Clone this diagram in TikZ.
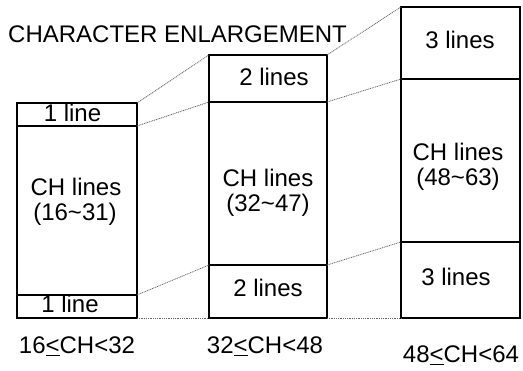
\documentclass[tikz,border=0pt]{standalone}
\usepackage{fontspec}
\setmainfont{Liberation Sans}
\begin{document}
\begin{tikzpicture}[x=1pt,y=-1pt,
  seg/.style={draw=black, line width=2.2pt, inner sep=0pt, outer sep=0pt, anchor=north west},
  lbl/.style={inner sep=0pt, anchor=base, font=\fontsize{24}{26}\selectfont},
  link/.style={draw=black!60, line width=0.8pt, dash pattern=on 1pt off 0.8pt}]
\useasboundingbox (0,0) rectangle (523,371);
% title
\node[lbl, anchor=base west] (title) at (8,43) {CHARACTER ENLARGEMENT};
% left box
\node[seg, minimum width=120, minimum height=23] (L1) at (17,103) {};
\node[seg, minimum width=120, minimum height=169] (L2) at (17,126) {};
\node[seg, minimum width=120, minimum height=23] (L3) at (17,295) {};
% middle box
\node[seg, minimum width=118, minimum height=47] (M1) at (209,55) {};
\node[seg, minimum width=118, minimum height=163] (M2) at (209,102) {};
\node[seg, minimum width=118, minimum height=53] (M3) at (209,265) {};
% right box
\node[seg, minimum width=119, minimum height=72] (R1) at (401,7) {};
\node[seg, minimum width=119, minimum height=163] (R2) at (401,79) {};
\node[seg, minimum width=119, minimum height=76] (R3) at (401,242) {};
% connectors
\draw[link] (L1.north east) -- (M1.north west);
\draw[link] (L2.north east) -- (M2.north west);
\draw[link] (L3.north east) -- (M3.north west);
\draw[link] (L3.south east) -- (M3.south west);
\draw[link] (M1.north east) -- (R1.north west);
\draw[link] (M2.north east) -- (R2.north west);
\draw[link] (M3.north east) -- (R3.north west);
\draw[link] (M3.south east) -- (R3.south west);
% texts
\node[lbl] (tL1) at (72.5,122) {1 line};
\node[lbl] (tL2a) at (76,196) {CH lines};
\node[lbl] (tL2b) at (75,221) {(16\textasciitilde31)};
\node[lbl] (tL3) at (70,313) {1 line};
\node[lbl] (tM1) at (274,86) {2 lines};
\node[lbl] (tM2a) at (268,187) {CH lines};
\node[lbl] (tM2b) at (268,212) {(32\textasciitilde47)};
\node[lbl] (tM3) at (268,297) {2 lines};
\node[lbl] (tR1) at (460,49) {3 lines};
\node[lbl] (tR2a) at (458,161) {CH lines};
\node[lbl] (tR2b) at (458,186) {(48\textasciitilde63)};
\node[lbl] (tR3) at (456,286) {3 lines};
\node[lbl] (c1) at (77,354) {16\underline{<}CH<32};
\node[lbl] (c2) at (265,354) {32\underline{<}CH<48};
\node[lbl] (c3) at (461,363) {48\underline{<}CH<64};
\end{tikzpicture}
\end{document}
